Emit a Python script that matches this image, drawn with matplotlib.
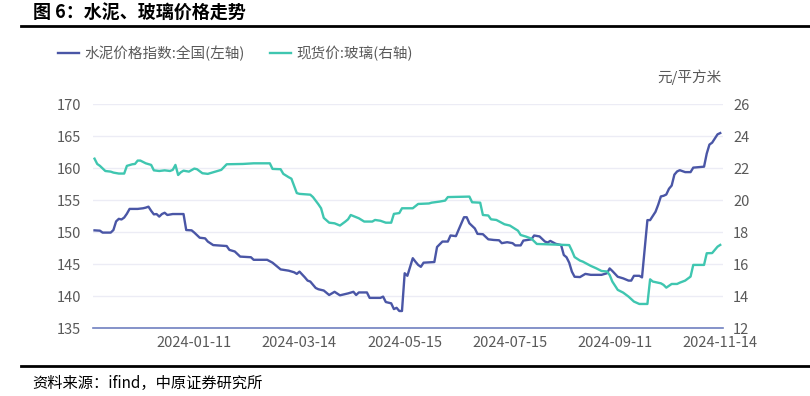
import matplotlib as mpl
mpl.use('Agg')
import matplotlib.pyplot as plt
from matplotlib.lines import Line2D

plt.rcParams['font.family'] = ['Noto Sans CJK SC', 'DejaVu Sans']

# x = trading-day index, ticks every 39 days
tick_idx = [37, 76, 115, 154, 193, 232]
tick_labels = ['2024-01-11', '2024-03-14', '2024-05-15', '2024-07-15', '2024-09-11', '2024-11-14']

# 水泥价格指数:全国 (left axis), vertices
cement_idx = [0, 2, 3, 6, 7, 8, 9, 10, 11, 12, 13, 16, 18, 19, 20, 21, 22, 23, 24, 25, 26, 27, 29, 33,
              34, 36, 37, 39, 41, 42, 44, 49, 50, 52, 54, 58, 59, 64, 66, 67, 69, 72, 74, 75, 76, 78,
              79, 80, 82, 83, 85, 87, 89, 91, 94, 96, 97, 98, 101, 102, 106, 107, 108, 110, 111, 112,
              113, 114, 115, 116, 118, 119, 120, 121, 122, 126, 127, 129, 131, 132, 134, 135, 137, 138,
              139, 141, 142, 144, 146, 148, 150, 151, 153, 155, 156, 158, 159, 162, 163, 165, 167, 168,
              169, 171, 173, 174, 175, 176, 177, 178, 180, 182, 184, 188, 190, 191, 192, 194, 196, 198,
              199, 200, 202, 203, 205, 206, 208, 209, 210, 211, 212, 213, 214, 215, 216, 217, 219, 221,
              222, 226, 227, 228, 229, 231, 232]
cement_val = [150.3, 150.25, 149.95, 149.95, 150.35, 151.7, 152.1, 152.0, 152.3, 152.9, 153.65, 153.65,
              153.75, 153.85, 154.0, 153.35, 152.8, 152.85, 152.45, 152.85, 153.05, 152.7, 152.85, 152.85,
              150.35, 150.3, 149.95, 149.15, 149.05, 148.55, 148.0, 147.85, 147.25, 147.0, 146.2, 146.1,
              145.7, 145.7, 145.25, 144.9, 144.2, 144.0, 143.75, 143.5, 143.85, 142.95,
              142.45, 142.3, 141.3, 141.1, 140.9, 140.2, 140.7, 140.15, 140.45, 140.7, 140.2, 140.6, 140.6,
              139.75, 139.75, 139.95, 139.1, 138.9, 138.0, 138.2,
              137.7, 137.7, 143.6, 143.2, 145.95, 145.4, 144.9, 144.6, 145.25, 145.35, 147.7, 148.55, 148.55,
              149.5, 149.4, 150.4, 152.35, 152.35,
              151.4, 150.6, 149.75, 149.7, 148.9, 148.8, 148.75, 148.3, 148.45, 148.3, 147.95, 147.95, 148.7,
              148.9, 149.5, 149.35, 148.55, 148.4,
              148.65, 148.2, 148.0, 146.45, 146.1, 145.25, 143.85, 143.05, 143.0, 143.5, 143.35, 143.35,
              143.6, 144.35, 143.95, 143.05, 142.8, 142.45,
              142.45, 143.2, 143.2, 142.95, 151.9, 151.9, 153.2, 154.3, 155.6, 155.7, 155.9, 156.8, 157.3,
              159.0, 159.5, 159.7, 159.4, 159.4,
              160.1, 160.25, 162.3, 163.7, 164.0, 165.3, 165.5]

# 现货价:玻璃 (right axis, 元/平方米)
glass_idx = [0, 1, 2, 4, 6, 7, 9, 11, 12, 14, 15, 16, 17, 19, 21, 22, 24, 26, 28, 29, 30, 31, 32, 33, 35,
             37, 38, 40, 42, 44, 46, 47, 49, 55, 59, 65, 66, 69, 70, 72, 73, 75, 76, 80, 81, 83, 84, 85,
             87, 89, 91, 93, 94, 95, 98, 100, 103, 104, 106, 108, 110, 111, 113, 114, 118, 120, 124, 125,
             128, 130, 131, 139, 140, 143, 144, 146, 147, 149, 152, 154, 157, 158, 160, 162, 164, 176,
             177, 178, 180, 181, 184, 186, 188, 190, 191, 192, 194, 196, 198, 200, 202, 205, 206, 207,
             210, 211, 212, 214, 216, 217, 219, 221, 222, 226, 227, 229, 231, 232]
glass_val = [22.6, 22.27, 22.15, 21.83, 21.79, 21.73, 21.67, 21.67, 22.15, 22.25, 22.27, 22.48, 22.48,
             22.31, 22.21, 21.87, 21.83, 21.87, 21.83, 21.9, 22.21, 21.58, 21.75, 21.85, 21.79,
             21.98, 21.94, 21.69, 21.65, 21.75, 21.85, 21.9, 22.25, 22.27, 22.31, 22.31, 21.96, 21.94,
             21.65, 21.44, 21.35, 20.45, 20.4, 20.35, 20.2, 19.75, 19.5, 18.9,
             18.6, 18.56, 18.42, 18.67, 18.81, 19.08, 18.875, 18.67, 18.67, 18.77, 18.72, 18.6, 18.6,
             19.15, 19.2, 19.5, 19.5, 19.77, 19.8, 19.85,
             19.92, 19.98, 20.2, 20.23, 19.875, 19.85, 19.08, 19.05, 18.81, 18.77, 18.5, 18.42, 18.1,
             17.83, 17.73, 17.6, 17.27, 17.2,
             16.85, 16.45, 16.23, 16.17, 15.9, 15.75, 15.58, 15.55, 15.33, 14.92, 14.4, 14.23, 13.98,
             13.67, 13.52, 13.52, 15.06, 14.92,
             14.81, 14.71, 14.54, 14.77, 14.77, 14.85, 14.98, 15.23, 15.96, 15.96, 16.69, 16.7, 17.1, 17.21]

blue = '#4a56a6'
teal = '#3fc6b0'
grey = '#595959'

fig = plt.figure(figsize=(8.1, 3.96), dpi=100)
ax1 = fig.add_axes([0.1152, 0.171, 0.7768, 0.5657])
ax2 = ax1.twinx()

l1, = ax1.plot(cement_idx, cement_val, color=blue, lw=1.7, label='水泥价格指数:全国(左轴)')
l2, = ax2.plot(glass_idx, glass_val, color=teal, lw=1.7, label='现货价:玻璃(右轴)')

ax1.set_xlim(-0.45, 232.85)
ax1.set_ylim(135, 170)
ax2.set_ylim(12, 26)
ax1.set_yticks(range(135, 171, 5))
ax2.set_yticks(range(12, 27, 2))
ax1.set_xticks(tick_idx)
ax1.set_xticklabels(tick_labels)

ax1.grid(axis='y', color='#ececf5', lw=1)
ax1.set_axisbelow(True)
for ax in (ax1, ax2):
    for s in ax.spines.values():
        s.set_visible(False)
    ax.tick_params(length=0, labelsize=10.5, labelcolor=grey)
ax1.spines['bottom'].set_visible(True)
ax1.spines['bottom'].set_color('#7080c0')
ax1.spines['bottom'].set_linewidth(1.2)
ax1.tick_params(axis='y', pad=8.6)
ax2.tick_params(axis='y', pad=7.6)
ax1.tick_params(axis='x', pad=5.5)

fig.legend(handles=[l1, l2], loc='center left', bbox_to_anchor=(0.072, 1 - 53 / 396), ncol=2,
           frameon=False, fontsize=10.5, labelcolor=grey, handlelength=1.45, handletextpad=0.35,
           columnspacing=1.7, borderaxespad=0, borderpad=0)

fig.text(722 / 810, 1 - 77 / 396, '元/平方米', ha='right', va='center', fontsize=10.5, color=grey)
fig.text(33 / 810, 1 - 13 / 396, '图 6：水泥、玻璃价格走势', ha='left', va='center',
         fontsize=13, weight='bold', color='black')
fig.text(32 / 810, 1 - 383 / 396, '资料来源：ifind，中原证券研究所', ha='left', va='center',
         fontsize=11, color='black')
fig.add_artist(Line2D([21 / 810, 1], [1 - 26 / 396, 1 - 26 / 396], color='black', lw=2))
fig.add_artist(Line2D([21 / 810, 1], [1 - 366 / 396, 1 - 366 / 396], color='black', lw=2))

fig.savefig('out.png', dpi=100)
